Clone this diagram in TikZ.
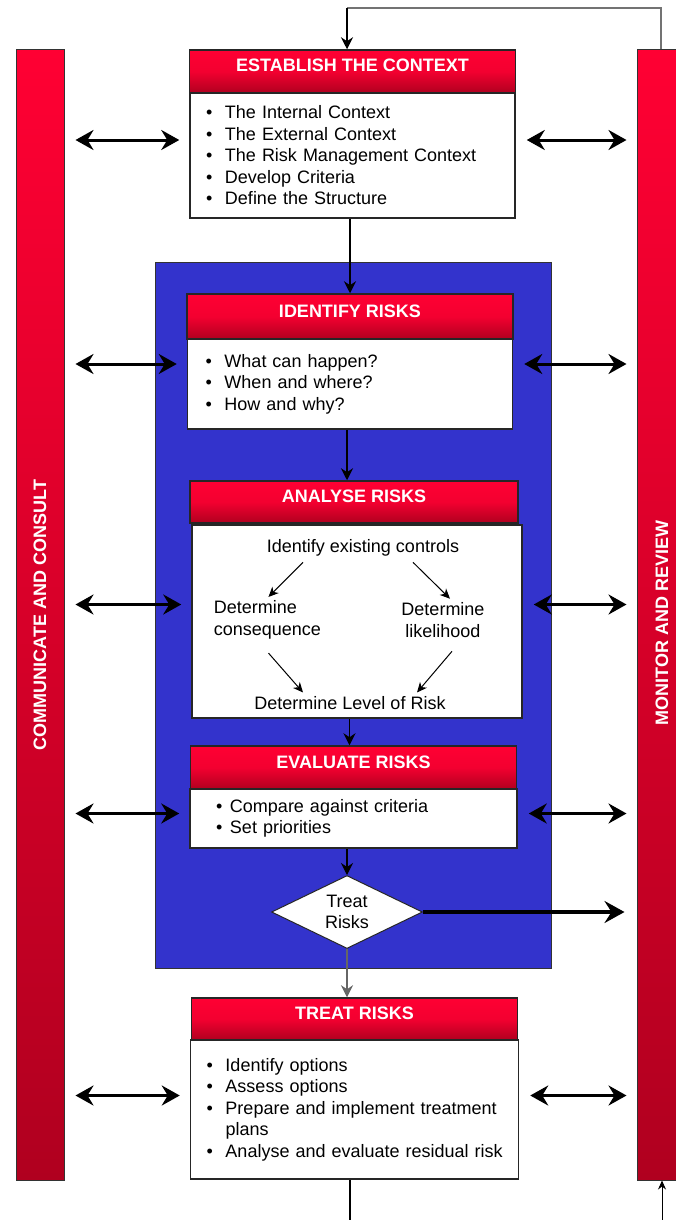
\documentclass[tikz,border=0pt]{standalone}
\usepackage{fontspec}
\setmainfont{Liberation Sans}
\usetikzlibrary{arrows.meta, shapes.geometric, positioning}

\definecolor{hdtop}{HTML}{FF0033}
\definecolor{hdbot}{HTML}{B0001F}
\definecolor{zonecol}{HTML}{3333CC}
\newcommand{\itm}{\makebox[19pt][l]{\textbullet}}

\begin{document}
\begin{tikzpicture}[x=1pt, y=-1pt, line width=1.2pt,
    >={Stealth[length=12pt, width=12pt, inset=4pt]},
    font=\fontsize{18}{21.5}\selectfont,
    head/.style={draw=black!85, line width=1.5pt, top color=hdtop, bottom color=hdbot,
        middle color=hdtop!85!hdbot, text=white, font=\fontsize{18}{21}\selectfont\bfseries,
        minimum width=326pt, minimum height=43pt, text height=10pt, text depth=9pt, inner sep=0pt},
    body/.style={draw=black!85, line width=1.5pt, fill=white, align=left,
        text width=294pt, inner xsep=16pt, inner ysep=0pt},
    bar/.style={draw=black!80, line width=1pt, top color=hdtop, bottom color=hdbot,
        minimum width=48pt, minimum height=1130pt, inner sep=0pt, text=white,
        font=\fontsize{18}{21}\selectfont\bfseries},
    flow/.style={->, black},
    dbl/.style={{Stealth[length=18pt, width=20pt, inset=6pt]}-{Stealth[length=18pt, width=20pt, inset=6pt]},
        line width=3pt, shorten <=11pt, shorten >=10pt},
    inner/.style={->, line width=1pt, >={Stealth[length=10pt, width=9pt, inset=3pt]}}
  ]
  \useasboundingbox (0,0) rectangle (675,1220);

  % side bars
  \node[bar] (comm) at (40,615) {\rotatebox{90}{COMMUNICATE AND CONSULT}};
  \node[bar, minimum width=50pt] (mon) at (662,615) {\rotatebox{90}{MONITOR AND REVIEW\hspace*{16pt}}};

  % blue zone
  \node[draw=black!80, line width=1pt, fill=zonecol, minimum width=396pt, minimum height=706pt, inner sep=0pt] (zone) at (353,615) {};

  % establish the context
  \node[head] (estH) at (352.5,71.5) {ESTABLISH THE CONTEXT};
  \node[body, minimum height=125pt, text width=293pt] (estB) at (352.5,155.5)
    {\itm The Internal Context\\ \itm The External Context\\ \itm The Risk Management Context\\
     \itm Develop Criteria\\ \itm Define the Structure};

  % identify risks
  \node[head, minimum height=45pt] (ideH) at (350,316.5) {IDENTIFY RISKS};
  \node[body, minimum height=90pt, text width=289pt, inner xsep=18pt] (ideB) at (350,384)
    {\itm What can happen?\\ \itm When and where?\\ \itm How and why?};

  % analyse risks
  \node[head, minimum width=328pt, minimum height=42pt] (anaH) at (354,502) {ANALYSE RISKS};
  \node[body, minimum width=330pt, minimum height=193pt] (anaB) at (357,621.5) {};
  \node (ctrl) at (363,548) {Identify existing controls};
  \node[align=left, anchor=west] (cons) at (210,620) {Determine\\consequence};
  \node[align=center] (like) at (443,620) {Determine\\likelihood};
  \node (lvl) at (350,703) {Determine Level of Risk};
  \draw[inner] ([xshift=-60pt, yshift=-2pt]ctrl.south) -- ([xshift=1pt]cons.north);
  \draw[inner] ([xshift=50pt, yshift=-2pt]ctrl.south) -- ([xshift=7pt]like.north);
  \draw[inner] ([xshift=1pt, yshift=-10pt]cons.south) -- ([xshift=-47pt]lvl.north);
  \draw[inner] ([xshift=9pt, yshift=-10pt]like.south) -- ([xshift=67pt]lvl.north);

  % evaluate risks
  \node[head] (evaH) at (353.5,767.5) {EVALUATE RISKS};
  \node[body, minimum height=59pt, text width=275pt, inner xsep=26pt] (evaB) at (353.5,818.5)
    {\makebox[14pt][l]{\textbullet}Compare against criteria\\ \makebox[14pt][l]{\textbullet}Set priorities};

  % decision
  \node[diamond, aspect=2, draw=black!85, line width=1pt, fill=white, align=center,
        minimum width=151pt, minimum height=73pt, inner sep=0pt] (dec) at (347,912) {Treat\\Risks};

  % treat risks
  \node[head, minimum height=42pt] (trtH) at (354.5,1019) {TREAT RISKS};
  \node[body, minimum height=139pt, text width=302pt, inner xsep=13pt] (trtB) at (354.5,1109.5)
    {\hspace*{3pt}\itm Identify options\\ \hspace*{3pt}\itm Assess options\\
     \hspace*{3pt}\itm Prepare and implement treatment\\
     \hspace*{22pt}plans\\ \hspace*{3pt}\itm Analyse and evaluate residual risk};

  % flow
  \coordinate (tl) at (347,8);
  \coordinate (tr) at (661,8);
  \draw[black!55] (mon.north -| tr) -- (tr) -- (tl);
  \draw[flow] (tl) -- (tl |- estH.north);
  \draw[flow] (estB.south -| ideH.north) -- (ideH.north);
  \draw[flow] ([xshift=-3pt]ideB.south) -- ([xshift=-3pt]ideB.south |- anaH.north);
  \draw[flow] ([xshift=-4pt]evaH.north |- anaB.south) -- ([xshift=-4pt]evaH.north);
  \draw[flow] (dec.north |- evaB.south) -- (dec.north);
  \draw[flow, black!60] (dec.south) -- (dec.south |- trtH.north);
  \draw[->, line width=3.5pt, >={Stealth[length=20pt, width=22pt, inset=7pt]}, shorten >=12pt]
    (dec.east) -- (dec.east -| mon.west);

  \coordinate (bl) at (350,1220);
  \coordinate (br) at (662,1220);
  \draw (bl |- trtB.south) -- (bl);
  \draw[->, line width=0.8pt, >={Stealth[length=9pt, width=8pt, inset=3pt]}] (br) -- (br |- mon.south);

  % two-way links
  \foreach \b/\d in {estB/15.5, ideB/20, anaB/17, evaB/5, trtB/14}{
    \path ([yshift=\d pt]\b.west) coordinate (w) ([yshift=\d pt]\b.east) coordinate (e);
    \draw[dbl] (comm.east |- w) -- (w);
    \draw[dbl] (e) -- (mon.west |- e);
  }
\end{tikzpicture}
\end{document}
